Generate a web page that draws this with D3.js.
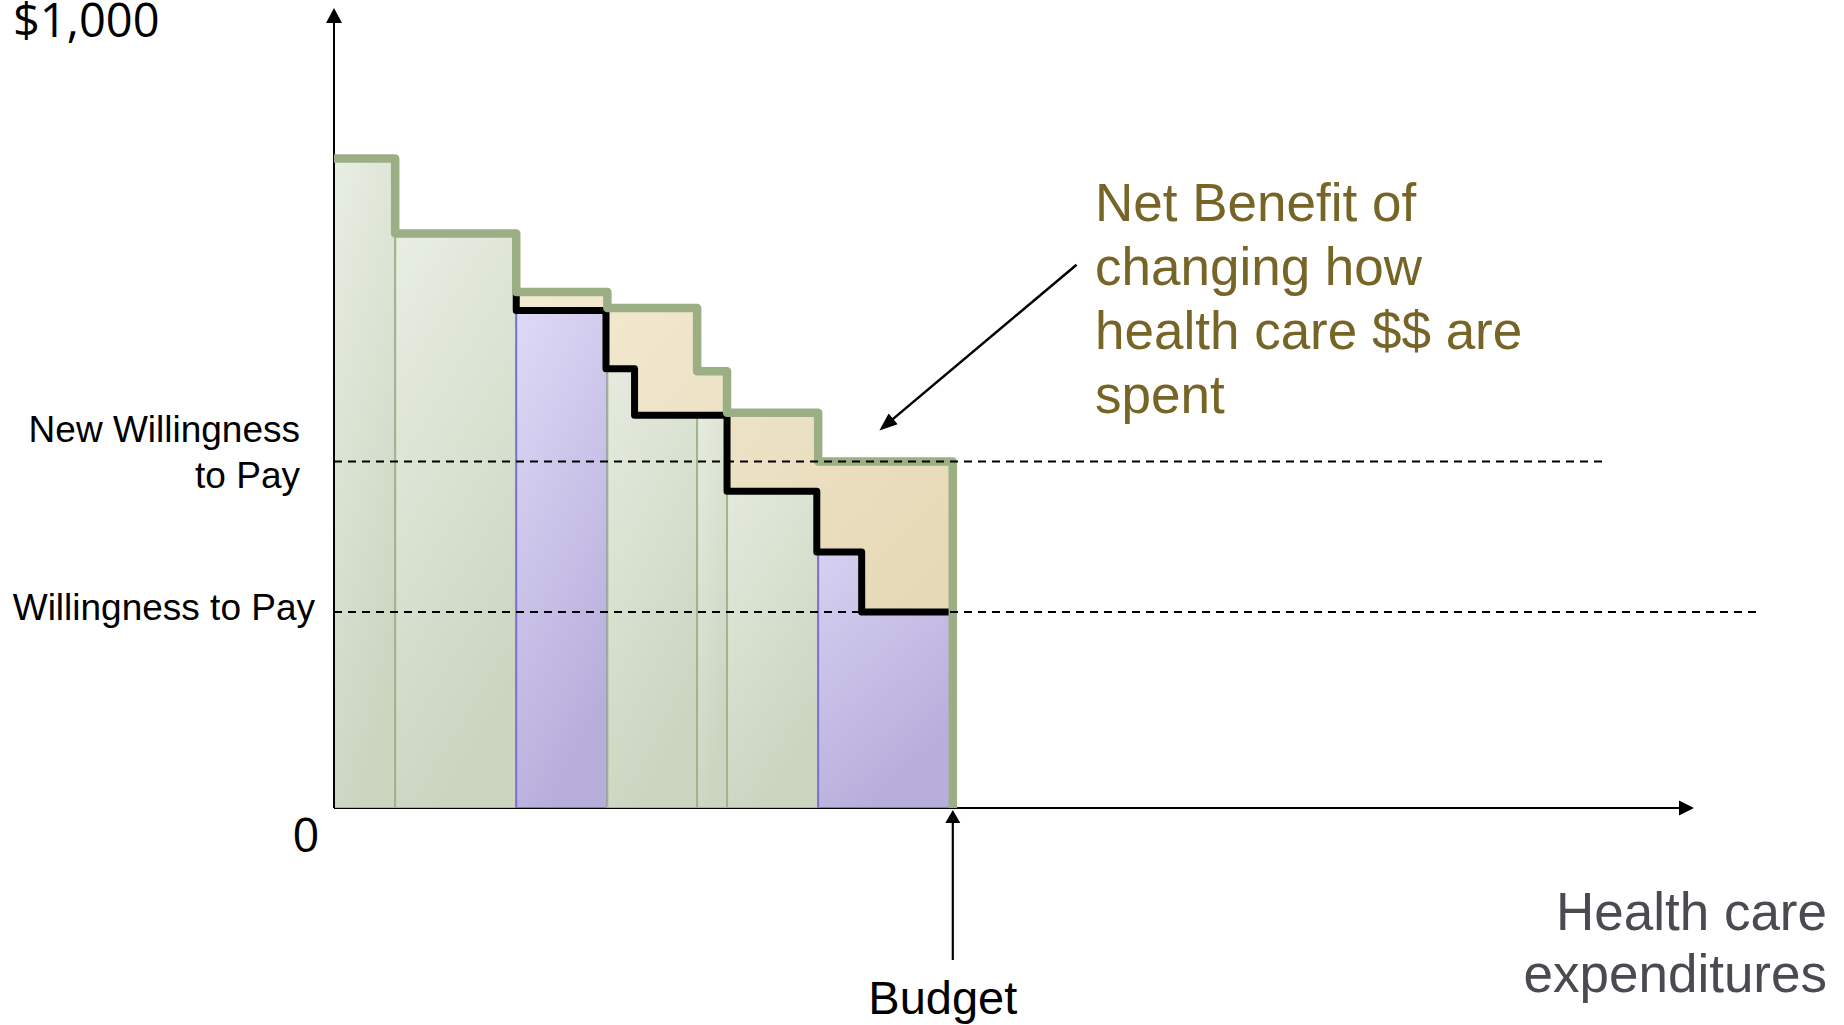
<!DOCTYPE html>
<html><head><meta charset="utf-8">
<script src="https://cdn.jsdelivr.net/npm/d3@7"></script>
<style>
html,body{margin:0;padding:0;background:#fff;overflow:hidden;}
svg{display:block;}
</style></head><body>
<script>
// ---------- data (chart units: x = expenditure units, y = $ per unit) ----------
const barStarts = [0, 45, 134, 201, 267, 289, 356];
const barEnds   = [45, 134, 201, 267, 289, 356, 455];
const barWTP    = [812, 718, 645, 625, 546, 494, 433];
const barType   = ['green', 'green', 'purple', 'green', 'green', 'green', 'purple'];
const newStepX  = [134, 200, 221, 289, 355, 388, 455];
const newStepY  = [622, 549, 491, 396, 320, 245];
const wtpLevel = 245;
const newWtpLevel = 433;
const budget = 455;
const yTickValues = [1000, 0];
const yTickLabels = ['$1,000', '0'];
const newWtpLabel = ['New Willingness', 'to Pay'];
const wtpLabel = 'Willingness to Pay';
const budgetLabel = 'Budget';
const xAxisLabel = ['Health care', 'expenditures'];
const noteLines = ['Net Benefit of', 'changing how', 'health care $$ are', 'spent'];

// ---------- setup ----------
const W = 1844, H = 1025;
const x = d3.scaleLinear().domain([0, 1000]).range([334, 1694]);
const y = d3.scaleLinear().domain([0, 1000]).range([808, 8]);
const SANS = "'Liberation Sans', Arial, sans-serif";

const svg = d3.select('body').append('svg').attr('width', W).attr('height', H);
const defs = svg.append('defs');
function grad(id, x2, y2, stops) {
  const g = defs.append('linearGradient').attr('id', id)
    .attr('x1', 0).attr('y1', 0).attr('x2', x2).attr('y2', y2);
  stops.forEach(([o, c]) => g.append('stop').attr('offset', o).attr('stop-color', c));
}
grad('gGreen', 0.35, 1, [[0, '#e8eee3'], [1, '#cbd5c0']]);
grad('gPurple', 0.35, 1, [[0, '#dfdbf7'], [1, '#b8aedc']]);
grad('gBeige', 1, 1, [[0, '#f8f2df'], [1, '#e2d3ad']]);

const fillOf = { green: 'url(#gGreen)', purple: 'url(#gPurple)' };
const strokeOf = { green: '#a1b48c', purple: '#7e71d2' };

function arrowHead(g, x1, y1, x2, y2, len, wid) {
  const a = Math.atan2(y2 - y1, x2 - x1);
  const bx = x2 - len * Math.cos(a), by = y2 - len * Math.sin(a);
  const px = -Math.sin(a) * wid / 2, py = Math.cos(a) * wid / 2;
  g.append('path').attr('d', `M${x2},${y2}L${bx + px},${by + py}L${bx - px},${by - py}Z`).attr('fill', '#000');
}
function arrow(g, x1, y1, x2, y2, sw, len, wid) {
  const a = Math.atan2(y2 - y1, x2 - x1);
  g.append('line').attr('x1', x1).attr('y1', y1)
    .attr('x2', x2 - (len - 2) * Math.cos(a)).attr('y2', y2 - (len - 2) * Math.sin(a))
    .attr('stroke', '#000').attr('stroke-width', sw);
  arrowHead(g, x1, y1, x2, y2, len, wid);
}

// ---------- curves ----------
const wtpPts = barStarts.map((s, i) => [s, barWTP[i]]).concat([[budget, barWTP[barWTP.length - 1]]]);
const lowerPts = barStarts.filter(s => s < newStepX[0]).map((s, i) => [s, barWTP[i]])
  .concat(newStepY.map((v, i) => [newStepX[i], v]))
  .concat([[budget, newStepY[newStepY.length - 1]]]);
const firstIdx = barStarts.indexOf(newStepX[0]);
const newPts = [[newStepX[0], barWTP[firstIdx]]]
  .concat(newStepY.map((v, i) => [newStepX[i], v]))
  .concat([[budget, newStepY[newStepY.length - 1]]]);

const area = d3.area().x(d => x(d[0])).y0(y(0)).y1(d => y(d[1])).curve(d3.curveStepAfter);
const line = d3.line().x(d => x(d[0])).y(d => y(d[1])).curve(d3.curveStepAfter);

defs.append('clipPath').attr('id', 'lowerClip').append('path').attr('d', area(lowerPts));

// x axis (under bars)
const axG = svg.append('g');
arrow(axG, x(0), y(0), x(1000), y(0), 2, 15, 15);

// beige net-benefit area
svg.append('path').attr('d', area(wtpPts)).attr('fill', 'url(#gBeige)');

// bars under new curve
svg.append('g').attr('clip-path', 'url(#lowerClip)')
  .selectAll('rect').data(barStarts).join('rect')
  .attr('x', (d, i) => x(d))
  .attr('width', (d, i) => x(barEnds[i]) - x(d))
  .attr('y', (d, i) => y(barWTP[i]))
  .attr('height', (d, i) => y(0) - y(barWTP[i]))
  .attr('fill', (d, i) => fillOf[barType[i]])
  .attr('stroke', (d, i) => strokeOf[barType[i]])
  .attr('stroke-width', 2);

// y axis
arrow(svg.append('g'), x(0), y(0), x(0), y(1000), 2, 15, 16);

// new WTP curve (black)
svg.append('path').attr('d', line(newPts)).attr('fill', 'none')
  .attr('stroke', '#000').attr('stroke-width', 7).attr('stroke-linejoin', 'round');

// original WTP curve (green)
const greenPts = wtpPts.concat([[budget, 0]]);
svg.append('path').attr('d', line(greenPts)).attr('fill', 'none')
  .attr('stroke', '#9caf84').attr('stroke-width', 8.5).attr('stroke-linejoin', 'round');

// dashed reference lines
svg.append('line').attr('x1', x(0)).attr('x2', 1603).attr('y1', y(newWtpLevel)).attr('y2', y(newWtpLevel))
  .attr('stroke', '#000').attr('stroke-width', 2).attr('stroke-dasharray', '8 6');
svg.append('line').attr('x1', x(0)).attr('x2', 1756).attr('y1', y(wtpLevel)).attr('y2', y(wtpLevel))
  .attr('stroke', '#000').attr('stroke-width', 2).attr('stroke-dasharray', '8 6');

// budget arrow
arrow(svg.append('g'), x(budget), 960, x(budget), y(0) + 2, 2.2, 13, 15);

// annotation arrow
arrow(svg.append('g'), x(546), y(679), x(401), y(472), 2.5, 18, 14);

// ---------- text ----------
const T = svg.append('g');
T.append('text').attr('x', 13).attr('y', y(yTickValues[0]) + 29).text(yTickLabels[0])
  .attr('font-family', "'Open Sans', sans-serif").attr('font-size', 47).attr('fill', '#000');
T.append('text').attr('x', 306).attr('y', y(yTickValues[1]) + 44).text(yTickLabels[1])
  .attr('text-anchor', 'middle')
  .attr('font-family', "'Open Sans', sans-serif").attr('font-size', 47).attr('fill', '#000');

newWtpLabel.forEach((t, i) => T.append('text').attr('x', 300).attr('y', y(newWtpLevel) - 20 + i * 46)
  .attr('text-anchor', 'end').attr('font-family', SANS).attr('font-size', 37).attr('fill', '#000').text(t));
T.append('text').attr('x', 315).attr('y', y(wtpLevel) + 8).attr('text-anchor', 'end')
  .attr('font-family', SANS).attr('font-size', 37).attr('fill', '#000').text(wtpLabel);

T.append('text').attr('x', x(budget) - 10).attr('y', 1014).attr('text-anchor', 'middle')
  .attr('font-family', SANS).attr('font-size', 47).attr('fill', '#000').text(budgetLabel);

xAxisLabel.forEach((t, i) => T.append('text').attr('x', 1827).attr('y', 930 + i * 62)
  .attr('text-anchor', 'end').attr('font-family', SANS).attr('font-size', 53).attr('fill', '#4a4a50').text(t));

noteLines.forEach((t, i) => T.append('text').attr('x', 1095).attr('y', 221 + i * 64)
  .attr('font-family', SANS).attr('font-size', 53).attr('fill', '#776427').text(t));
</script>
</body></html>
